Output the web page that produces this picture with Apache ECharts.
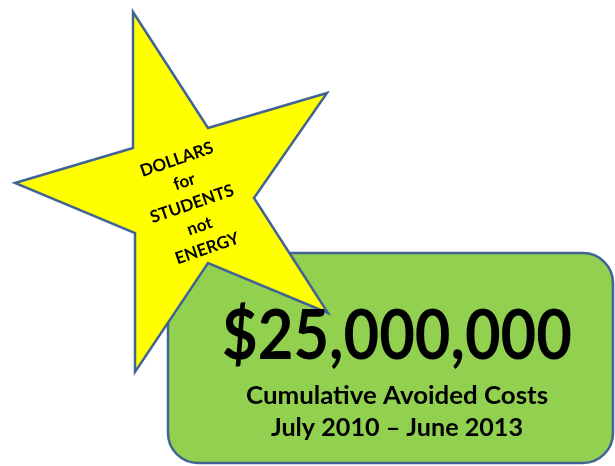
<!DOCTYPE html>
<html><head><meta charset="utf-8">
<script src="https://cdn.jsdelivr.net/npm/echarts@6/dist/echarts.min.js"></script>
<style>html,body{margin:0;padding:0;background:#fff}#c{width:615px;height:466px}</style>
</head><body><div id="c"></div>
<script>
// Content
var starLines = ['DOLLARS', 'for', 'STUDENTS', 'not', 'ENERGY'];
var headline = ['$25,000,000'];
var subLines = ['Cumulative Avoided Costs', 'July 2010 \u2013 June 2013'];

var FONT = 'Lato, "Open Sans", sans-serif';
var ctx = document.createElement('canvas').getContext('2d');
function fitScale(text, size, target) {
  ctx.font = 'bold ' + size + 'px ' + FONT;
  var w = ctx.measureText(text).width;
  return w > 0 ? target / w : 1;
}

var chart = echarts.init(document.getElementById('c'), null, {renderer: 'canvas'});
var stroke = '#416494';
var elements = [];

elements.push({
  type: 'rect', shape: {x: 168, y: 253, width: 445, height: 210, r: 30},
  style: {fill: '#92d050', stroke: stroke, lineWidth: 2.5}, z: 1
});
elements.push({
  type: 'polygon',
  shape: {points: [[133,12],[208,128],[327,93],[254,198],[328,313],[208,263],[135,372],[135,233],[15,183],[133,148]]},
  style: {fill: '#ffff00', stroke: stroke, lineWidth: 2.5}, z: 2
});

var bigTarget = 350, bigSize = 68;
elements.push({
  type: 'text', x: 397, y: 337, z: 3,
  scaleX: fitScale(headline[0], bigSize, bigTarget),
  style: {text: headline[0], font: 'bold ' + bigSize + 'px ' + FONT, fill: '#000', align: 'center', verticalAlign: 'middle'}
});
var subTargets = [302, 252], subY = [396, 428];
subLines.forEach(function (t, i) {
  elements.push({
    type: 'text', x: 397, y: subY[i], z: 3,
    scaleX: fitScale(t, 24, subTargets[i]),
    style: {text: t, font: 'bold 24px ' + FONT, fill: '#000', align: 'center', verticalAlign: 'middle'}
  });
});

// Star text, rotated
var rot = 0.33;
var cx = 192, cy = 204, lh = 23.5;
var starTargets = [78, 0, 0, 0, 0];
starLines.forEach(function (t, i) {
  var off = (i - 2) * lh;
  elements.push({
    type: 'text', z: 4,
    x: cx + Math.sin(rot) * off,
    y: cy + Math.cos(rot) * off,
    rotation: rot,
    style: {text: t, font: 'bold 17px ' + FONT, fill: '#000', align: 'center', verticalAlign: 'middle'}
  });
});

chart.setOption({animation: false, graphic: {elements: elements}});
</script>
</body></html>
